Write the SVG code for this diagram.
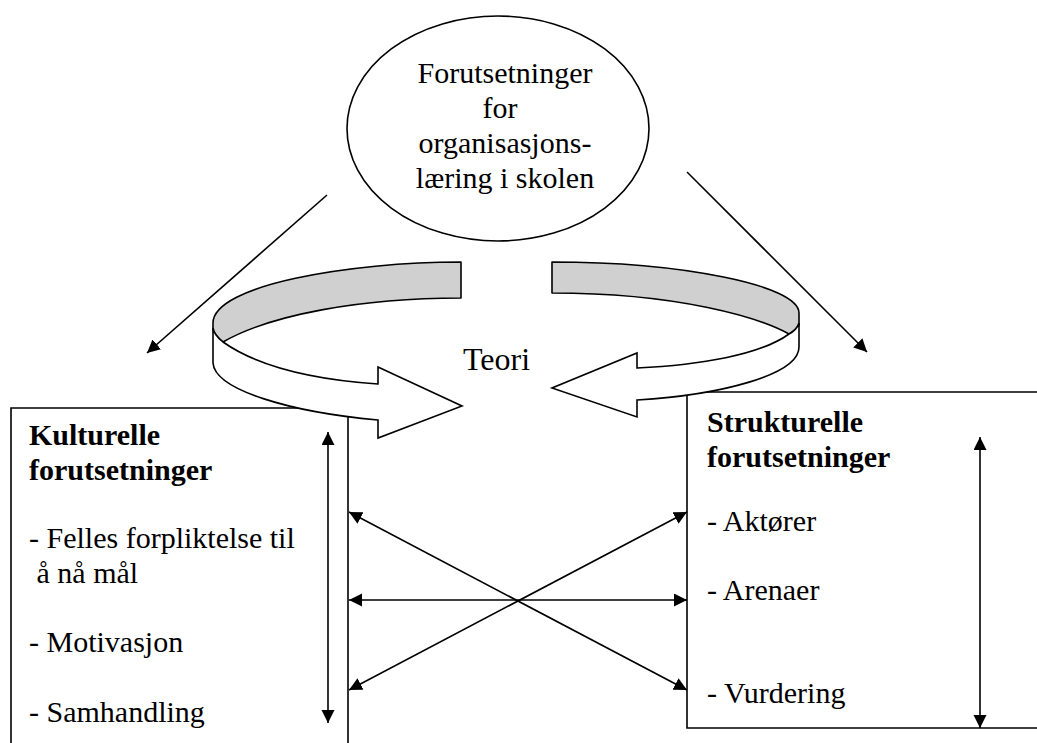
<svg xmlns="http://www.w3.org/2000/svg" width="1037" height="743" viewBox="0 0 1037 743">
  <style>
    .ln { stroke: #000; stroke-width: 1.6; fill: none; }
    .t { font-family: "Liberation Serif", "Times New Roman", serif; font-size: 30px; fill: #000; }
    .b { font-weight: bold; }
    .band { fill: #d0d0d0; stroke: #000; stroke-width: 1.6; stroke-linejoin: round; }
    .face { fill: #fff; stroke: #000; stroke-width: 1.6; stroke-linejoin: miter; }
  </style>
  <defs>
    <marker id="ah" markerUnits="userSpaceOnUse" markerWidth="14" markerHeight="14" refX="13" refY="6.5" orient="auto-start-reverse">
      <path d="M0,0 L13,6.5 L0,13 Z" fill="#000"/>
    </marker>
  </defs>
  <rect width="1037" height="743" fill="#fff"/>

  <g id="box-kulturelle">
    <path class="ln" d="M11,745 V408 H348 V745"/>
    <text class="t b" x="29" y="445">Kulturelle</text>
    <text class="t b" x="29" y="480">forutsetninger</text>
    <text class="t" x="29" y="548">- Felles forpliktelse til</text>
    <text class="t" x="29" y="583" xml:space="preserve"> å nå mål</text>
    <text class="t" x="29" y="652">- Motivasjon</text>
    <text class="t" x="29" y="722">- Samhandling</text>
  </g>

  <g id="box-strukturelle">
    <path class="ln" d="M1040,392 H687 V728 H1040"/>
    <text class="t b" x="707" y="432">Strukturelle</text>
    <text class="t b" x="707" y="467">forutsetninger</text>
    <text class="t" x="707" y="531">- Aktører</text>
    <text class="t" x="707" y="600">- Arenaer</text>
    <text class="t" x="707" y="703">- Vurdering</text>
  </g>

  <g id="ellipse-forutsetninger">
    <ellipse class="ln" cx="498" cy="128.5" rx="151" ry="112.5"/>
    <text class="t" x="505" y="83" text-anchor="middle">Forutsetninger</text>
    <text class="t" x="500" y="118" text-anchor="middle">for</text>
    <text class="t" x="505" y="153" text-anchor="middle">organisasjons-</text>
    <text class="t" x="505" y="188" text-anchor="middle">læring i skolen</text>
  </g>

  <g id="cycle-left">
    <path class="band" d="M461,262 C350,262 213,285 213,323 L213,330 C215,335 219,339 223,342 C270,315 360,298 461,298 Z"/>
    <path class="face" d="M213,328 C214,334 218,338 223,342 C260,368 320,380 378,384 L378,367 L462,406 L378,438 L378,420 C290,412 215,390 213,363 Z"/>
  </g>

  <g id="cycle-right">
    <path class="band" d="M552,262 C680,262 799,285 799,313 L799,325 C796,330 792,332 789,334 C760,318 680,293 552,293 Z"/>
    <path class="face" d="M799,323 C797,329 793,332 789,334 C760,355 700,365 637,368 L637,353 L552,388 L637,417 L637,400 C720,395 799,375 799,347 Z"/>
  </g>

  <g id="teori">
    <text class="t" x="463" y="370" style="font-size:32px">Teori</text>
  </g>

  <g id="connectors">
    <line class="ln" x1="327" y1="195" x2="147" y2="353" marker-end="url(#ah)"/>
    <line class="ln" x1="687" y1="172" x2="867" y2="352" marker-end="url(#ah)"/>
    <line class="ln" x1="328" y1="432" x2="328" y2="723" marker-start="url(#ah)" marker-end="url(#ah)"/>
    <line class="ln" x1="980" y1="437" x2="980" y2="728" marker-start="url(#ah)" marker-end="url(#ah)"/>
    <line class="ln" x1="349" y1="512" x2="687" y2="690" marker-start="url(#ah)" marker-end="url(#ah)"/>
    <line class="ln" x1="349" y1="690" x2="687" y2="512" marker-start="url(#ah)" marker-end="url(#ah)"/>
    <line class="ln" x1="349" y1="600" x2="687" y2="600" marker-start="url(#ah)" marker-end="url(#ah)"/>
  </g>
</svg>
